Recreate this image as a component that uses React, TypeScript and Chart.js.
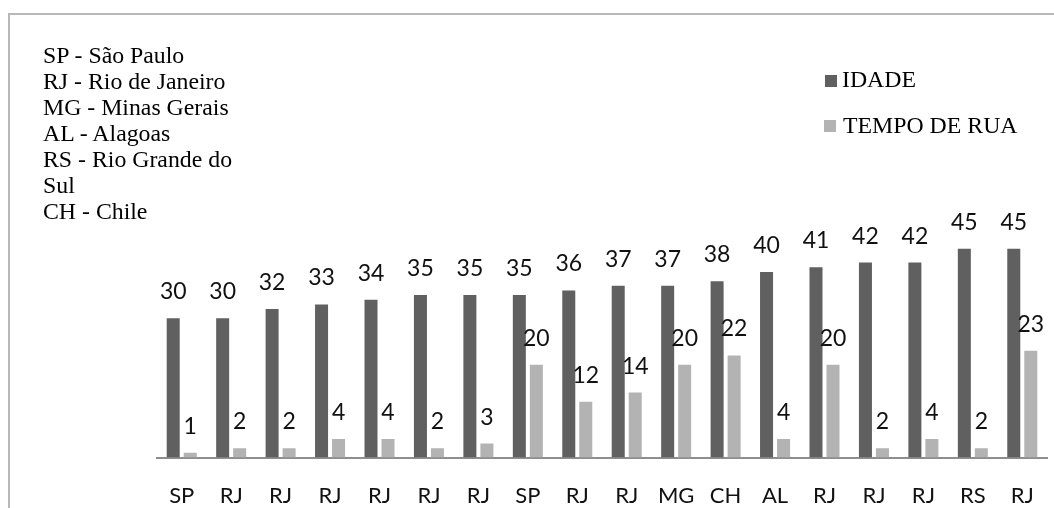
import React, { useEffect, useRef } from "react";
import { Chart, registerables } from "chart.js";

Chart.register(...registerables);

const categories = ["SP", "RJ", "RJ", "RJ", "RJ", "RJ", "RJ", "SP", "RJ", "RJ", "MG", "CH", "AL", "RJ", "RJ", "RJ", "RS", "RJ"];
const idade = [30, 30, 32, 33, 34, 35, 35, 35, 36, 37, 37, 38, 40, 41, 42, 42, 45, 45];
const tempoDeRua = [1, 2, 2, 4, 4, 2, 3, 20, 12, 14, 20, 22, 4, 20, 2, 4, 2, 23];
const seriesNames = ["IDADE", "TEMPO DE RUA"];
const noteLines = ["SP - São Paulo", "RJ - Rio de Janeiro", "MG - Minas Gerais", "AL - Alagoas", "RS - Rio Grande do", "Sul", "CH - Chile"];

const DARK = "#606060";
const LIGHT = "#b3b3b3";
const SANS = "Lato, 'Noto Sans', sans-serif";
const SERIF = "'Liberation Serif', 'DejaVu Serif', serif";

const valueLabels = {
  id: "valueLabels",
  afterDatasetsDraw(chart: any) {
    const ctx = chart.ctx;
    ctx.save();
    ctx.font = `23px ${SANS}`;
    ctx.fillStyle = "#111";
    ctx.textAlign = "center";
    ctx.textBaseline = "alphabetic";
    chart.data.datasets.forEach((ds: any, i: number) => {
      const meta = chart.getDatasetMeta(i);
      meta.data.forEach((el: any, j: number) => {
        ctx.fillText(String(ds.data[j]), el.x, el.y - 19);
      });
    });
    ctx.restore();
  },
};

export default function App() {
  const ref = useRef<HTMLCanvasElement | null>(null);
  useEffect(() => {
    if (!ref.current) return;
    const chart = new Chart(ref.current, {
      type: "bar",
      data: {
        labels: categories,
        datasets: [
          { label: seriesNames[0], data: idade, backgroundColor: DARK, categoryPercentage: 0.688, barPercentage: 0.765 },
          { label: seriesNames[1], data: tempoDeRua, backgroundColor: LIGHT, categoryPercentage: 0.688, barPercentage: 0.765 },
        ],
      },
      options: {
        animation: false,
        responsive: false,
        maintainAspectRatio: false,
        layout: { padding: { left: 157, right: 7, top: 225.5, bottom: 0 } },
        plugins: { legend: { display: false }, tooltip: { enabled: false } },
        scales: {
          y: { display: false, min: 0, max: 50 },
          x: {
            grid: { display: false },
            border: { display: true, color: "#8e8e8e", width: 2 },
            ticks: { color: "#111", font: { family: SANS, size: 22 }, padding: 17, maxRotation: 0, autoSkip: false },
            afterFit: (s: any) => {
              s.height = 50.5;
            },
          },
        },
      },
      plugins: [valueLabels],
    });
    return () => chart.destroy();
  }, []);

  return (
    <div style={{ position: "fixed", left: 0, top: 0, width: 1054, height: 508, background: "#fff", overflow: "hidden" }}>
      <div style={{ position: "absolute", left: 8, top: 13, right: -4, bottom: -4, borderTop: "2px solid #b8b8b8", borderLeft: "2px solid #b8b8b8" }} />
      <canvas ref={ref} width={1054} height={508} style={{ position: "absolute", left: 0, top: 0, width: 1054, height: 508 }} />
      <div style={{ position: "absolute", left: 43, top: 42.4, fontFamily: SERIF, fontSize: 23.8, lineHeight: "26px", color: "#000", whiteSpace: "nowrap" }}>
        {noteLines.map((l, i) => (
          <div key={i}>{l}</div>
        ))}
      </div>
      <div style={{ position: "absolute", left: 825, top: 75, width: 12, height: 12, background: DARK }} />
      <div style={{ position: "absolute", left: 842, top: 66.4, fontFamily: SERIF, fontSize: 23.8, lineHeight: "26px", color: "#000", whiteSpace: "nowrap" }}>{seriesNames[0]}</div>
      <div style={{ position: "absolute", left: 824, top: 120, width: 12, height: 12, background: LIGHT }} />
      <div style={{ position: "absolute", left: 843, top: 112, fontFamily: SERIF, fontSize: 23.8, lineHeight: "26px", color: "#000", whiteSpace: "nowrap" }}>{seriesNames[1]}</div>
    </div>
  );
}
